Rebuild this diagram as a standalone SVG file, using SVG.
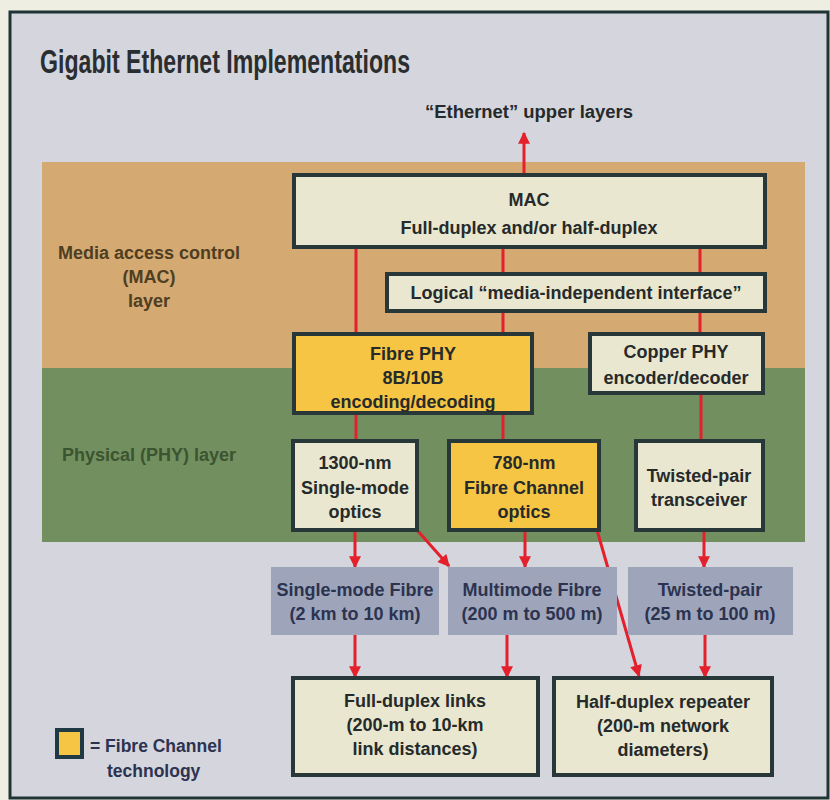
<svg xmlns="http://www.w3.org/2000/svg" width="830" height="800" viewBox="0 0 830 800">
<defs>
<style>
.t{font-family:"Liberation Sans",Arial,sans-serif;font-weight:bold;text-anchor:middle;fill:#262a2a;font-size:18px}
.bx{fill:#e9e7cf;stroke:#283838;stroke-width:4}
.yb{fill:#f6c544;stroke:#283838;stroke-width:4}
.md{fill:#9ea5ba}
.mt{font-family:"Liberation Sans",Arial,sans-serif;font-weight:bold;text-anchor:middle;fill:#2c3350;font-size:18px}
.c{stroke:#e3202c;stroke-width:3;fill:none}
.ca{stroke:#e3202c;stroke-width:3;fill:none;marker-end:url(#ah)}
</style>
<marker id="ah" viewBox="0 0 10 10" refX="9" refY="5" markerWidth="4.5" markerHeight="4" orient="auto" markerUnits="strokeWidth">
<path d="M0,0 L10,5 L0,10 z" fill="#e3202c"/>
</marker>
</defs>
<rect x="0" y="0" width="830" height="800" fill="#efeee2"/>
<rect x="10" y="12" width="818" height="786" fill="#d4d5dd" stroke="#1f3434" stroke-width="3"/>
<text x="40" y="73" font-family="Liberation Sans,Arial,sans-serif" font-weight="bold" font-size="34" fill="#2a2e30" textLength="370" lengthAdjust="spacingAndGlyphs">Gigabit Ethernet Implementations</text>
<text class="t" x="529" y="118" textLength="208" lengthAdjust="spacingAndGlyphs">“Ethernet” upper layers</text>

<g id="layers">
<rect x="42" y="162" width="763" height="206" fill="#d5a972"/>
<rect x="42" y="368" width="763" height="174" fill="#728f60"/>
<text class="t" x="149" y="259" style="fill:#4e3e22">Media access control</text>
<text class="t" x="149" y="283" style="fill:#4e3e22">(MAC)</text>
<text class="t" x="149" y="307" style="fill:#4e3e22">layer</text>
<text class="t" x="149" y="461" style="fill:#3a5530">Physical (PHY) layer</text>
</g>

<g id="connectors">
<line class="ca" x1="524" y1="175" x2="524" y2="133"/>
<line class="c" x1="356" y1="247" x2="356" y2="333"/>
<line class="c" x1="503" y1="247" x2="503" y2="274"/>
<line class="c" x1="700" y1="247" x2="700" y2="274"/>
<line class="c" x1="503" y1="311" x2="503" y2="333"/>
<line class="c" x1="700" y1="311" x2="700" y2="333"/>
<line class="c" x1="356" y1="413" x2="356" y2="440"/>
<line class="c" x1="503" y1="413" x2="503" y2="440"/>
<line class="c" x1="701" y1="393" x2="701" y2="440"/>
<line class="ca" x1="355" y1="530" x2="355" y2="567"/>
<line class="ca" x1="417" y1="530" x2="449" y2="566"/>
<line class="ca" x1="525" y1="530" x2="525" y2="567"/>
<line class="ca" x1="597" y1="530" x2="639" y2="676"/>
<line class="ca" x1="704" y1="530" x2="704" y2="567"/>
<line class="ca" x1="355" y1="635" x2="355" y2="677"/>
<line class="ca" x1="507" y1="635" x2="507" y2="677"/>
<line class="ca" x1="705" y1="635" x2="705" y2="677"/>
</g>

<g id="mac">
<rect class="bx" x="294" y="175" width="471" height="72"/>
<text class="t" x="529" y="206">MAC</text>
<text class="t" x="529" y="234">Full-duplex and/or half-duplex</text>
</g>
<g id="mii">
<rect class="bx" x="387" y="274" width="378" height="37"/>
<text class="t" x="576" y="299">Logical “media-independent interface”</text>
</g>
<g id="fibrephy">
<rect class="yb" x="294" y="334" width="238" height="79"/>
<text class="t" x="413" y="360">Fibre PHY</text>
<text class="t" x="413" y="384">8B/10B</text>
<text class="t" x="413" y="408">encoding/decoding</text>
</g>
<g id="copperphy">
<rect class="bx" x="590" y="334" width="173" height="59"/>
<text class="t" x="676" y="358">Copper PHY</text>
<text class="t" x="676" y="384">encoder/decoder</text>
</g>
<g id="sm-optics">
<rect class="bx" x="293" y="441" width="124" height="89"/>
<text class="t" x="355" y="469">1300-nm</text>
<text class="t" x="355" y="494">Single-mode</text>
<text class="t" x="355" y="518">optics</text>
</g>
<g id="fc-optics">
<rect class="yb" x="449" y="441" width="150" height="89"/>
<text class="t" x="524" y="469">780-nm</text>
<text class="t" x="524" y="494">Fibre Channel</text>
<text class="t" x="524" y="518">optics</text>
</g>
<g id="tp-transceiver">
<rect class="bx" x="636" y="441" width="127" height="89"/>
<text class="t" x="699" y="482">Twisted-pair</text>
<text class="t" x="699" y="506">transceiver</text>
</g>
<g id="sm-fibre">
<rect class="md" x="271" y="567" width="168" height="68"/>
<text class="mt" x="355" y="596">Single-mode Fibre</text>
<text class="mt" x="355" y="620">(2 km to 10 km)</text>
</g>
<g id="mm-fibre">
<rect class="md" x="448" y="567" width="169" height="68"/>
<text class="mt" x="532" y="596">Multimode Fibre</text>
<text class="mt" x="532" y="620">(200 m to 500 m)</text>
</g>
<g id="tp">
<rect class="md" x="628" y="567" width="165" height="68"/>
<text class="mt" x="710" y="596">Twisted-pair</text>
<text class="mt" x="710" y="620">(25 m to 100 m)</text>
</g>
<g id="full-duplex">
<rect class="bx" x="293" y="678" width="245" height="97"/>
<text class="t" x="415" y="707">Full-duplex links</text>
<text class="t" x="415" y="731">(200-m to 10-km</text>
<text class="t" x="415" y="755">link distances)</text>
</g>
<g id="half-duplex">
<rect class="bx" x="554" y="678" width="218" height="97"/>
<text class="t" x="663" y="708">Half-duplex repeater</text>
<text class="t" x="663" y="732">(200-m network</text>
<text class="t" x="663" y="756">diameters)</text>
</g>
<g id="legend">
<rect x="57" y="730" width="25" height="27" fill="#f6c544" stroke="#1f3a44" stroke-width="4"/>
<text x="90" y="752" font-family="Liberation Sans,Arial,sans-serif" font-weight="bold" font-size="17.5" fill="#2c3350">= Fibre Channel</text>
<text x="107" y="777" font-family="Liberation Sans,Arial,sans-serif" font-weight="bold" font-size="17.5" fill="#2c3350">technology</text>
</g>
</svg>
